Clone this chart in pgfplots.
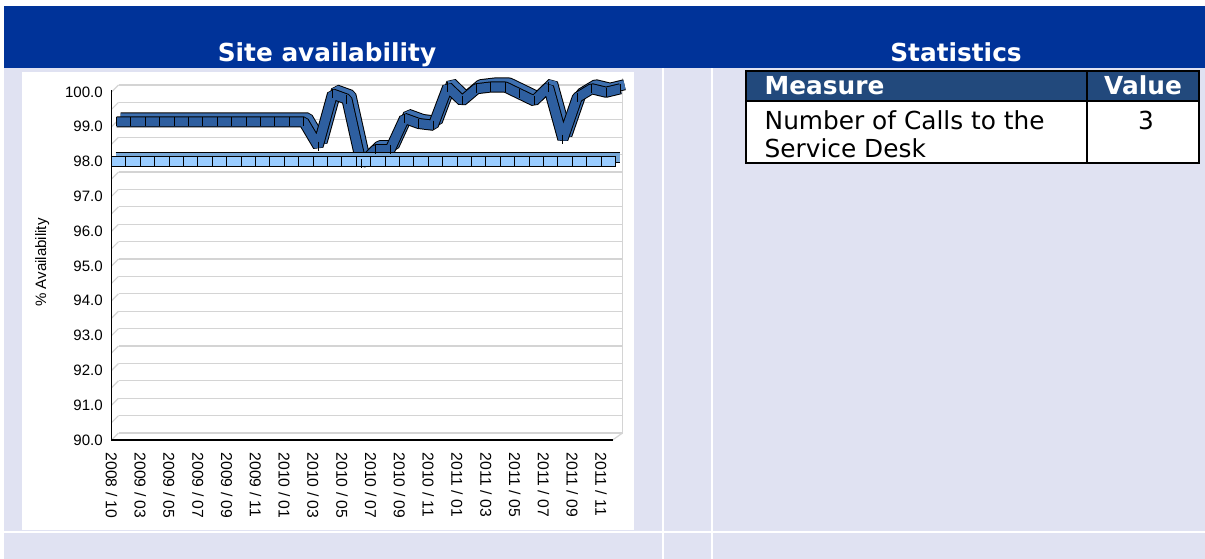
\documentclass[border=0pt]{standalone}
\usepackage{pgfplots}
\pgfplotsset{compat=1.18}
\usepackage{pgfplotstable}
\usepackage{fontspec}
\setmainfont{DejaVu Sans}
\newfontfamily\arialfont{Liberation Sans}

\definecolor{hdrblue}{RGB}{0,51,153}
\definecolor{lav}{RGB}{224,226,242}
\definecolor{tblblue}{RGB}{34,73,124}
\definecolor{availfront}{RGB}{46,95,160}
\definecolor{availtop}{RGB}{62,112,176}
\definecolor{targetfront}{RGB}{153,204,255}
\definecolor{targettop}{RGB}{118,166,214}
\definecolor{gridc}{RGB}{212,212,212}

% monthly availability (%), categories 0..35
\pgfplotstableread{
k v
0 99.0
1 99.0
2 99.0
3 99.0
4 99.0
5 99.0
6 99.0
7 99.0
8 99.0
9 99.0
10 99.0
11 99.0
12 99.0
13 99.0
14 98.3
15 99.8
16 99.65
17 97.8
18 98.2
19 98.2
20 99.1
21 98.95
22 98.9
23 100.0
24 99.6
25 99.95
26 100.0
27 100.0
28 99.8
29 99.6
30 100.0
31 98.5
32 99.7
33 99.95
34 99.85
35 99.95
}\availdata

% target line
\pgfplotstableread{
k v
0 98.0
1 98.0
2 98.0
3 98.0
4 98.0
5 98.0
6 98.0
7 98.0
8 98.0
9 98.0
10 98.0
11 98.0
12 98.0
13 98.0
14 98.0
15 98.0
16 98.0
17 98.0
18 98.0
19 98.0
20 98.0
21 98.0
22 98.0
23 98.0
24 98.0
25 98.0
26 98.0
27 98.0
28 98.0
29 98.0
30 98.0
31 98.0
32 98.0
33 98.0
34 98.0
35 98.0
}\targetdata

\begin{document}
\begin{tikzpicture}
% page background, px coordinates from top left
\begin{scope}[x=0.75pt,y=-0.75pt]
  \fill[white] (0,0) rectangle (1205,559);
  \fill[lav] (4,68) rectangle (1205,559);
  \fill[hdrblue] (4,6) rectangle (1205,68);
  \fill[white] (662,68) rectangle (664,559);
  \fill[white] (711,68) rectangle (713,559);
  \fill[white] (4,531) rectangle (1205,533);
  \fill[white] (22,72) rectangle (634,530);
  \node[anchor=base, text=white, font=\bfseries\fontsize{18.6}{22}\selectfont]
    at (327,62) {Site availability};
  \node[anchor=base, text=white, font=\bfseries\fontsize{18.6}{22}\selectfont]
    at (956,62) {Statistics};
  % statistics table
  \fill[white] (746,71) rectangle (1199,163);
  \fill[tblblue] (746,71) rectangle (1199,101);
  \draw[black, line width=1.5pt] (746,71) rectangle (1199,163);
  \draw[black, line width=1.5pt] (746,101) -- (1199,101);
  \draw[black, line width=1.5pt] (1087,71) -- (1087,163);
  \node[anchor=base west, text=white, font=\bfseries\fontsize{18.6}{22}\selectfont]
    at (760,95) {Measure};
  \node[anchor=base, text=white, font=\bfseries\fontsize{18.6}{22}\selectfont]
    at (1143,95) {Value};
  \node[anchor=base west, font=\fontsize{18.6}{22}\selectfont]
    at (760,130) {Number of Calls to the};
  \node[anchor=base west, font=\fontsize{18.6}{22}\selectfont]
    at (760,158) {Service Desk};
  \node[anchor=base, font=\fontsize{18.6}{22}\selectfont]
    at (1146,130) {3};
\end{scope}

\begin{axis}[
  at={(83.625pt,-330pt)}, anchor=south west,
  scale only axis, width=378pt, height=261pt,
  xmin=0, xmax=35, ymin=90, ymax=100,
  clip=false,
  axis line style={draw=none},
  tick style={draw=none},
  xtick={0,2,...,34},
  xticklabels={2008 / 10,2009 / 03,2009 / 05,2009 / 07,2009 / 09,2009 / 11,
    2010 / 01,2010 / 03,2010 / 05,2010 / 07,2010 / 09,2010 / 11,
    2011 / 01,2011 / 03,2011 / 05,2011 / 07,2011 / 09,2011 / 11},
  ytick={90,91,...,100},
  /pgf/number format/assume math mode=true,
  yticklabel style={/pgf/number format/fixed, /pgf/number format/fixed zerofill,
    /pgf/number format/precision=1, xshift=-3pt},
  ticklabel style={font=\arialfont\fontsize{11.3}{13}\selectfont},
  xticklabel style={rotate=-90, anchor=west, xshift=6pt,
    font=\arialfont\fontsize{11.8}{13}\selectfont},
  ylabel={\% Availability},
  ylabel style={font=\arialfont\fontsize{11.3}{13}\selectfont,
    at={(axis description cs:0,0.51)}, anchor=center, yshift=52pt},
]
% back wall and floor
\pgfplotsinvokeforeach{90,90.5,...,100}{
  \draw[gridc, line width=0.9pt] ([shift={(5.25pt,5.25pt)}]axis cs:0,#1) -- ([shift={(5.25pt,5.25pt)}]axis cs:35,#1);
  \draw[gridc, line width=0.9pt] (axis cs:0,#1) -- ([shift={(5.25pt,5.25pt)}]axis cs:0,#1);
}
\draw[gridc, line width=0.9pt] ([shift={(5.25pt,5.25pt)}]axis cs:35,90) -- ([shift={(5.25pt,5.25pt)}]axis cs:35,100.2);
\draw[gridc, line width=0.9pt] (axis cs:34.8,90) -- ([shift={(5.25pt,5.25pt)}]axis cs:35,90);
\draw[black, line width=1pt] (axis cs:0,100.05) -- (axis cs:0,90) -- (axis cs:34.8,90);

% availability ribbon (back row)
\addplot[black, line width=8.3pt, line join=bevel, xshift=6.75pt, yshift=6.75pt] table[x=k, y=v] {\availdata};
\addplot[availtop, line width=6.8pt, line join=bevel, xshift=6.75pt, yshift=6.75pt] table[x=k, y=v] {\availdata};
\addplot[black, line width=8.3pt, line join=bevel, xshift=3.75pt, yshift=3.75pt] table[x=k, y=v] {\availdata};
\addplot[availfront, line width=6.8pt, line join=bevel, xshift=3.75pt, yshift=3.75pt] table[x=k, y=v] {\availdata};
\addplot[only marks, mark=|, mark size=3.4pt, mark options={black, line width=0.7pt}, xshift=3.75pt, yshift=3.75pt] table[x=k, y=v] {\availdata};

% target ribbon (front row)
\addplot[black, line width=8.3pt, line join=miter, xshift=3pt, yshift=3pt] table[x=k, y=v] {\targetdata};
\addplot[targettop, line width=6.8pt, line join=miter, xshift=3pt, yshift=3pt] table[x=k, y=v] {\targetdata};
\addplot[black, line width=8.3pt, line join=miter] table[x=k, y=v] {\targetdata};
\addplot[targetfront, line width=6.8pt, line join=miter] table[x=k, y=v] {\targetdata};
\addplot[only marks, mark=|, mark size=3.4pt, mark options={black, line width=0.7pt}] table[x=k, y=v] {\targetdata};
\end{axis}
\pgfresetboundingbox
\path[use as bounding box] (0pt,0pt) rectangle (903.75pt,-419.25pt);
\end{tikzpicture}
\end{document}
